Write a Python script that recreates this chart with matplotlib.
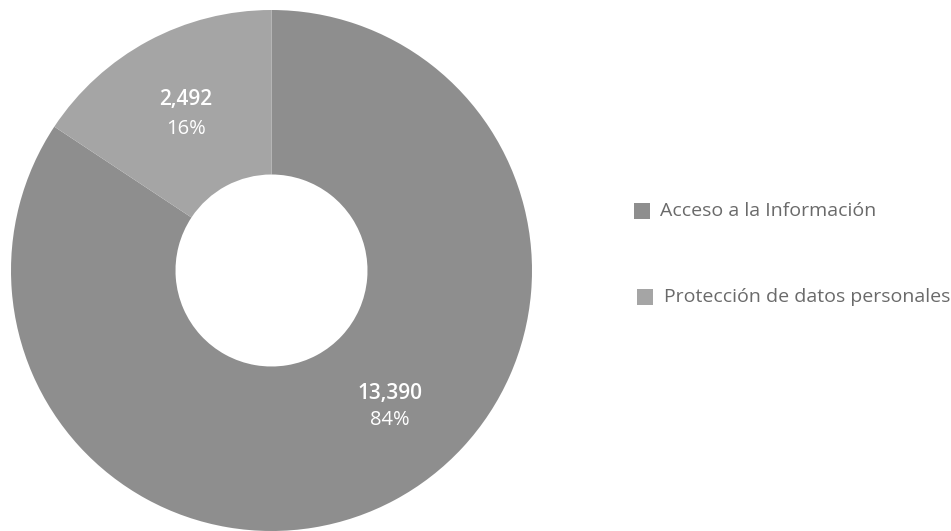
import matplotlib.pyplot as plt
from matplotlib.patches import Rectangle

categories = ["Acceso a la Información", "Protección de datos personales"]
values = [13390, 2492]
percent_labels = ["84%", "16%"]
value_labels = ["13,390", "2,492"]
colors = ["#8e8e8e", "#a5a5a5"]

W, H = 951, 531
fig = plt.figure(figsize=(W / 100, H / 100), dpi=100)
ax = fig.add_axes([0, 0, 1, 1])

cx, cy, R, r_in = 271.5, 260.5, 260.5, 96
ax.pie(values, colors=colors, startangle=90, counterclock=False,
       center=(cx, cy), radius=R, frame=True,
       wedgeprops=dict(width=R - r_in, linewidth=0))
ax.set_xlim(0, W)
ax.set_ylim(0, H)
ax.set_aspect("equal")
ax.axis("off")

font = "Open Sans"
label_pos = [(390, 393, 420), (186, 99, 129)]
for (x, y1, y2), vl, pl in zip(label_pos, value_labels, percent_labels):
    ax.text(x, H - y1, vl, ha="center", va="center", color="white",
            fontsize=15, fontweight="semibold", family=font)
    ax.text(x, H - y2, pl, ha="center", va="center", color="white",
            fontsize=14.5, fontweight="normal", family=font)

leg = [(634, 211, 660), (637, 297, 664)]
for (sx, sy, tx), cat, col in zip(leg, categories, colors):
    ax.add_patch(Rectangle((sx, H - sy - 8), 16, 16, color=col, linewidth=0))
    ax.text(tx, H - sy, cat, ha="left", va="center", color="#6a6a6a",
            fontsize=14, family=font)

fig.savefig("out.png", dpi=100)
